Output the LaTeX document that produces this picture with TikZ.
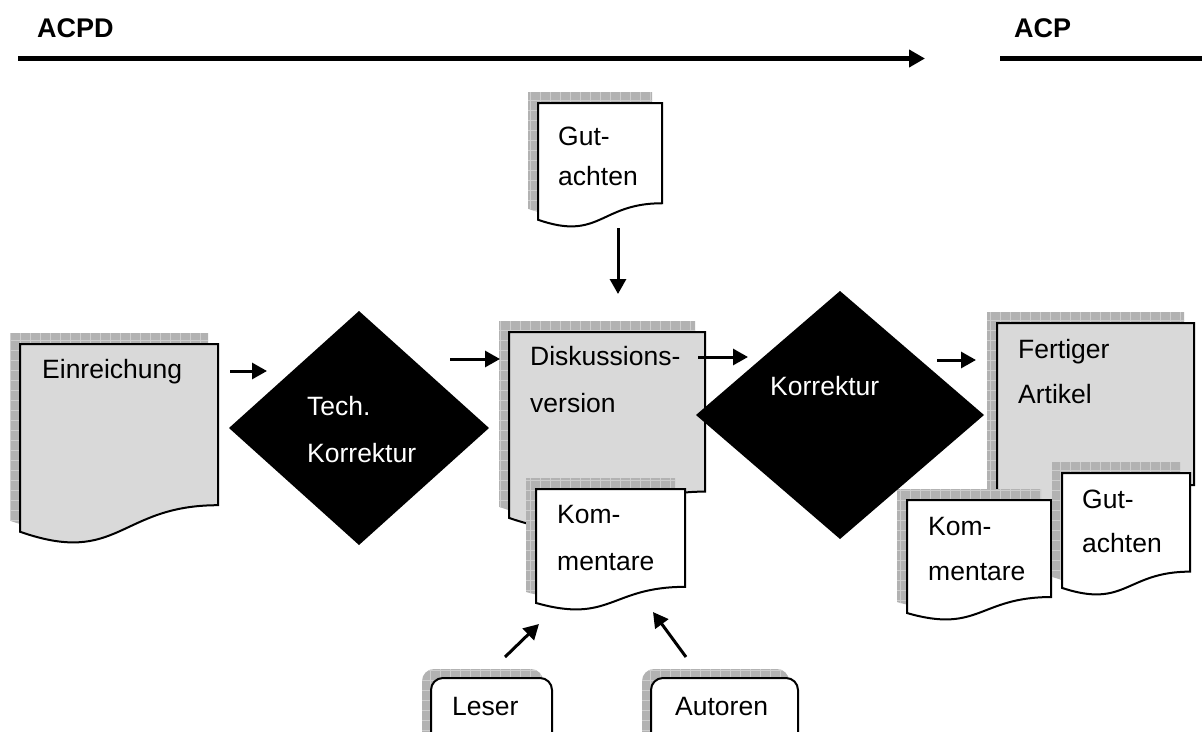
\documentclass[tikz,border=0pt]{standalone}
\usepackage{fontspec}
\setmainfont{Liberation Sans}
\usetikzlibrary{arrows.meta,calc}

\definecolor{docgray}{RGB}{217,217,217}
\definecolor{shadegray}{RGB}{178,178,178}
\definecolor{shadeline}{RGB}{205,205,205}

% flowchart "document" outline: x, y (top left), width, height
\newcommand{\docpath}[4]{(#1,#2) -- (#1+#3,#2) -- (#1+#3,#2+0.802*#4)
  .. controls (#1+0.5*#3,#2+0.802*#4) and (#1+0.5*#3,#2+1.107*#4) .. (#1,#2+0.934*#4) -- cycle}

% document with hatched drop shadow up and to the left
\newcommand{\docshape}[5]{%
  \begin{scope}
    \clip \docpath{#1-10}{#2-11}{#3}{#4};
    \fill[shadegray] (#1-12,#2-12) rectangle (#1+#3,#2+1.2*#4);
    \draw[shadeline, line width=0.7pt, step=10pt] (#1-12,#2-12) grid (#1+#3,#2+1.2*#4);
  \end{scope}
  \draw[docline, fill=#5] \docpath{#1}{#2}{#3}{#4};}

% rounded box with the same shadow
\newcommand{\roundbox}[4]{%
  \begin{scope}
    \clip[rounded corners=12pt] (#1-9,#2-9) rectangle (#1-9+#3,#2+#4);
    \fill[shadegray] (#1-10,#2-10) rectangle (#1+#3,#2+#4);
    \draw[shadeline, line width=0.7pt, step=10pt] (#1-10,#2-10) grid (#1+#3,#2+#4);
  \end{scope}
  \draw[docline, fill=white, rounded corners=12pt] (#1,#2) rectangle (#1+#3,#2+#4);}

\tikzset{
  docline/.style={draw=black, line width=2pt},
  lbl/.style={anchor=base west, inner sep=0pt, font=\fontsize{26.5}{32}\selectfont},
  wlbl/.style={lbl, text=white},
  head/.style={anchor=base west, inner sep=0pt, font=\fontsize{27}{32}\selectfont\bfseries},
  arr/.style={line width=3pt, -{Triangle[length=15pt,width=16pt]}},
  phase/.style={line width=5pt},
  decision/.style={fill=black, draw=none}
}

\begin{document}
\begin{tikzpicture}[x=1pt,y=-1pt]
\useasboundingbox (0,0) rectangle (1202,731);
\clip (0,0) rectangle (1202,731);

% --- phase bar ---
\node[head] (acpd) at (37,37) {ACPD};
\node[head] (acp) at (1014,37) {ACP};
\coordinate (p0) at (18,58.5);
\coordinate (p1) at (925,58.5);
\coordinate (q0) at (1000,58.5);
\coordinate (q1) at (1202,58.5);
\draw[phase, -{Triangle[length=16pt,width=17pt]}] (p0) -- (p1);
\draw[phase] (q0) -- (q1);

% --- documents ---
\docshape{20}{344}{198}{201}{docgray}
\node[lbl] (einr) at (42,378) {Einreichung};

\docshape{538}{103}{124}{125}{white}
\node[lbl] (gut1) at (558,145) {Gut-};
\node[lbl] (gut2) at (558,185) {achten};

\docshape{509}{332}{196}{199}{docgray}
\node[lbl] (disk1) at (530,365) {Diskussions-};
\node[lbl] (disk2) at (530,412) {version};

\docshape{536}{489}{149}{122}{white}
\node[lbl] (kom1) at (557,523) {Kom-};
\node[lbl] (kom2) at (557,570) {mentare};

\docshape{997}{323}{197}{202}{docgray}
\node[lbl] (fert1) at (1018,358) {Fertiger};
\node[lbl] (fert2) at (1018,403) {Artikel};

\docshape{907}{500}{144}{121}{white}
\node[lbl] (rkom1) at (928,535) {Kom-};
\node[lbl] (rkom2) at (928,580) {mentare};

\docshape{1062}{473}{128}{123}{white}
\node[lbl] (rgut1) at (1082,508) {Gut-};
\node[lbl] (rgut2) at (1082,552) {achten};

% --- decisions ---
\path[decision] (229,428) -- (359,311) -- (489,428) -- (359,545) -- cycle;
\node[wlbl] (tech1) at (307,415) {Tech.};
\node[wlbl] (tech2) at (307,462) {Korrektur};

\path[decision] (696,415) -- (840,291) -- (984,415) -- (840,539) -- cycle;
\node[wlbl] (korr) at (770,395) {Korrektur};

% --- sources ---
\roundbox{431}{678}{121}{80}
\node[lbl] (leser) at (452,715) {Leser};
\roundbox{651}{678}{147}{80}
\node[lbl] (autoren) at (675,715) {Autoren};

% --- connectors ---
\coordinate (a1s) at (230,371); \coordinate (a1e) at (267,371);
\coordinate (a2s) at (450,359); \coordinate (a2e) at (500,359);
\coordinate (a3s) at (698,357); \coordinate (a3e) at (748,357);
\coordinate (a4s) at (937,360); \coordinate (a4e) at (976,360);
\coordinate (a5s) at (618,228); \coordinate (a5e) at (618,294);
\coordinate (a6s) at (505,657); \coordinate (a6e) at (539,624);
\coordinate (a7s) at (686,657); \coordinate (a7e) at (653,612);
\draw[arr] (a1s) -- (a1e);
\draw[arr] (a2s) -- (a2e);
\draw[arr] (a3s) -- (a3e);
\draw[arr] (a4s) -- (a4e);
\draw[arr] (a5s) -- (a5e);
\draw[arr] (a6s) -- (a6e);
\draw[arr] (a7s) -- (a7e);
\end{tikzpicture}
\end{document}
